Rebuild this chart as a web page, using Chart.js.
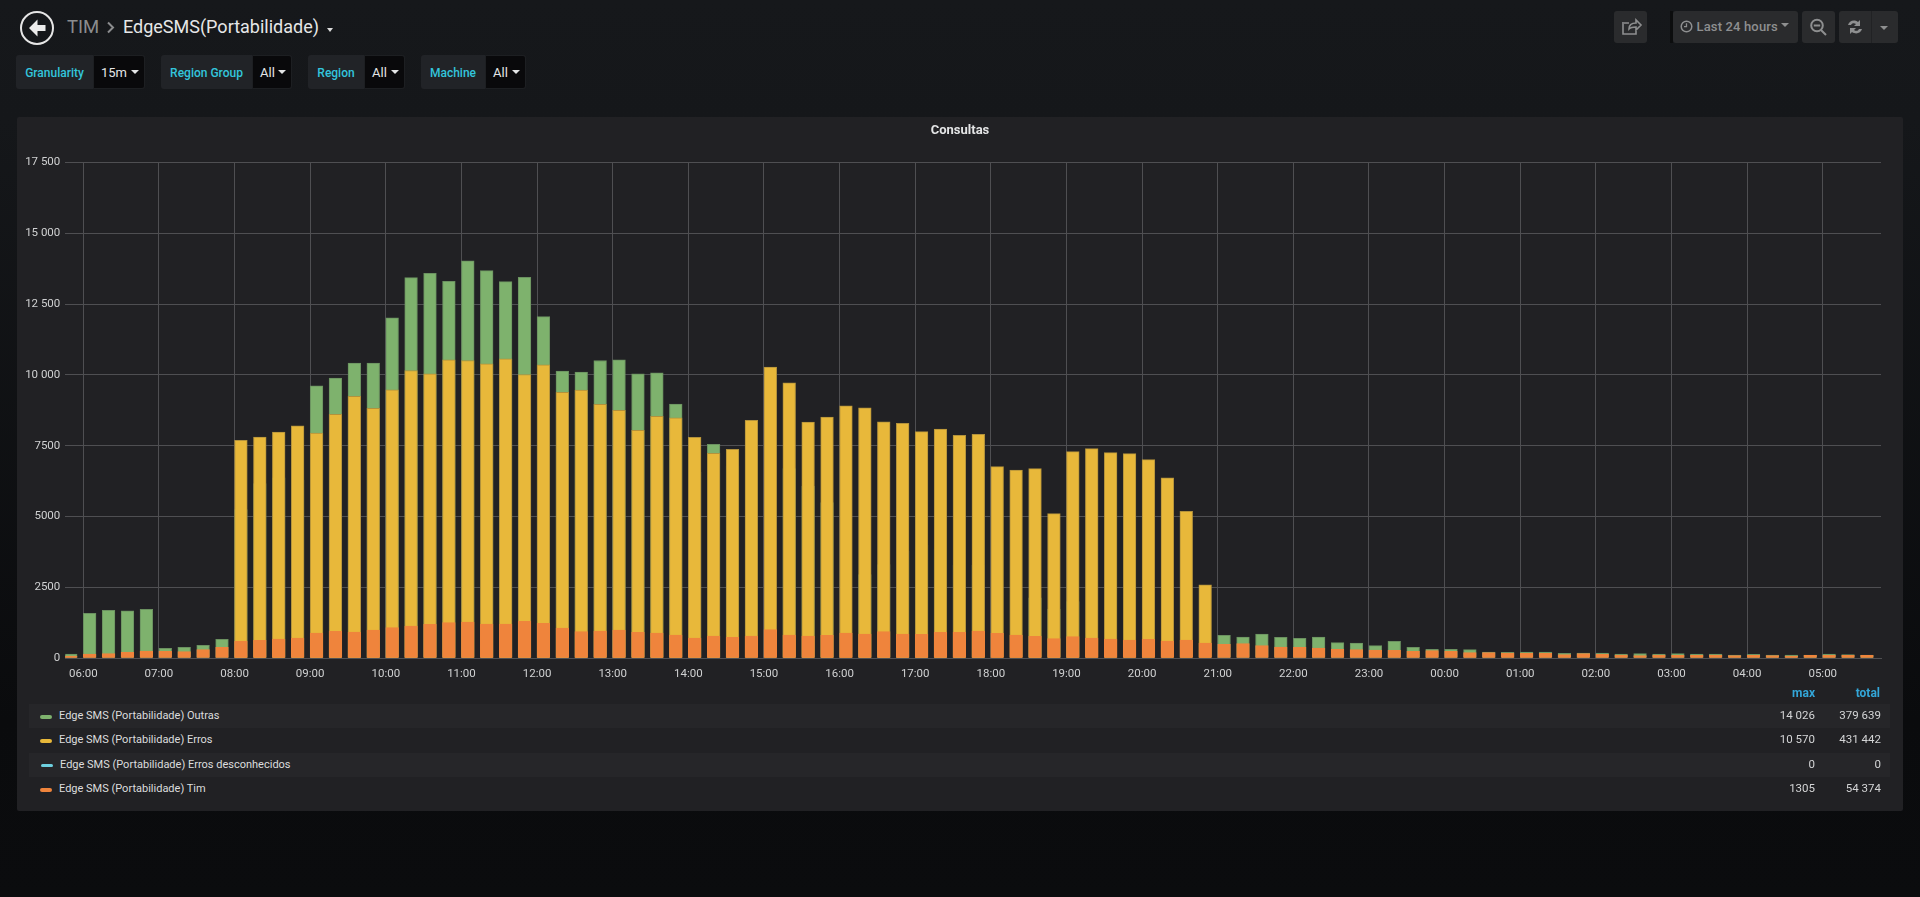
<!DOCTYPE html>
<html><head><meta charset="utf-8">
<script src="https://cdn.jsdelivr.net/npm/chart.js@4"></script>
<style>
html,body{margin:0;padding:0;width:1920px;height:897px;overflow:hidden;font-family:Roboto,sans-serif;}
body{background:linear-gradient(#16181b 0,#15171a 120px,#0a0b0d 720px,#0b0c0e 897px);position:relative;color:#d8d9da;}
.a{position:absolute;white-space:nowrap;}
.btn{position:absolute;background:#2a2b2d;border-radius:3px;top:11px;height:32px;}
.vbox{position:absolute;top:55px;height:34px;background:#212327;border-radius:3px;box-sizing:border-box;}
.vbox .l{position:absolute;left:0;top:1px;height:34px;line-height:34px;text-align:center;color:#33c5dc;font-weight:500;font-size:12px;}
.vbox .v{position:absolute;top:0;bottom:0;right:0;background:#09090b;border:1px solid #1d1f22;box-sizing:border-box;border-radius:0 3px 3px 0;line-height:34px;color:#e4e5e6;font-size:13px;padding-left:7px;}
.car{position:absolute;width:0;height:0;border-left:4px solid transparent;border-right:4px solid transparent;border-top:4px solid #e4e5e6;}
#panel{position:absolute;left:17px;top:117px;width:1886px;height:694px;background:#212124;border-radius:2px;}
#wrap{position:absolute;left:0;top:0;width:1886px;height:573px;}
.row{position:absolute;left:12px;width:1861px;height:24px;font-size:11px;color:#dcddde;}
.row.s{background:#262629;}
.sw{position:absolute;left:11px;top:11px;width:12px;height:3.5px;border-radius:2px;}
.nm{position:absolute;left:30px;top:0;line-height:23px;}
.mx,.tt{position:absolute;line-height:23px;top:0;text-align:right;color:#d4d5d6;font-size:11.5px;}
.mx{right:75px;}.tt{right:9px;}
.hd{position:absolute;top:569px;font-size:12px;font-weight:700;color:#33a6d8;line-height:14px;}
</style></head><body>

<svg class="a" style="left:19px;top:10px" width="36" height="36" viewBox="0 0 36 36">
<circle cx="18" cy="18" r="16" fill="none" stroke="#e6e6e6" stroke-width="2"/>
<path d="M18.5 9.5L10 18l8.500 8.500 0-5.500 8 0 0-6-8 0z" fill="#ececec"/></svg>
<div class="a" style="left:67px;top:15px;font-size:18.500px;line-height:24px;color:#8b8c8e">TIM</div>
<svg class="a" style="left:106px;top:21px" width="9" height="13"><path d="M2 1.500L7 6.500 2 11.500" fill="none" stroke="#8b8c8e" stroke-width="2"/></svg>
<div class="a" style="left:123px;top:15px;font-size:18px;line-height:24px;color:#e6e7e8">EdgeSMS(Portabilidade)</div>
<div class="car" style="left:327px;top:28px;border-top-color:#dcdcdc;border-left-width:3.5px;border-right-width:3.5px"></div>

<div class="btn" style="left:1614px;width:33px"><svg width="33" height="32"><path d="M10 12h5M9 11v12h13v-5M15 18c0-4 3-6 7-6v-3l5 5-5 5v-3c-3 0-5 0-7 2z" fill="none" stroke="#8e8f90" stroke-width="1.600"/></svg></div>
<div class="a" style="left:1670px;top:11px;width:3px;height:32px;background:#0c0d0e"></div>
<div class="btn" style="left:1673px;width:125px">
<svg class="a" style="left:7px;top:9px" width="13" height="13"><circle cx="6.500" cy="6.500" r="5.300" fill="none" stroke="#8e8f90" stroke-width="1.500"/><path d="M6.500 3.200v3.500H4" fill="none" stroke="#8e8f90" stroke-width="1.300"/></svg>
<div class="a" style="left:23.500px;top:0;line-height:31px;font-size:13px;font-weight:500;color:#8e8f90;letter-spacing:.15px">Last 24 hours</div>
<div class="car" style="left:108px;top:12px;border-top-color:#8e8f90"></div></div>
<div class="btn" style="left:1802px;width:33px"><svg width="33" height="32"><circle cx="15" cy="14.500" r="5.800" fill="none" stroke="#8e8f90" stroke-width="2"/><path d="M11.800 14.500h6.400M19 19l5 5" stroke="#8e8f90" stroke-width="2"/></svg></div>
<div class="btn" style="left:1839px;width:59px"><svg width="32" height="32"><path d="M9 14c1-4 6-6 10-3l2-2v6h-6l2-2c-2-1.500-4-1-5 1zM23 18c-1 4-6 6-10 3l-2 2v-6h6l-2 2c2 1.500 4 1 5-1z" fill="#8e8f90"/></svg>
<div class="a" style="left:31.500px;top:0;width:1px;height:32px;background:#212224"></div>
<div class="car" style="left:41px;top:15px;border-top-color:#8e8f90"></div></div>

<div class="vbox" style="left:16px;width:129px"><div class="l" style="width:77px">Granularity</div><div class="v" style="width:52px">15m<div class="car" style="left:37px;top:14px"></div></div></div>
<div class="vbox" style="left:161px;width:131px"><div class="l" style="width:91px">Region Group</div><div class="v" style="width:40px">All<div class="car" style="left:25px;top:14px"></div></div></div>
<div class="vbox" style="left:308px;width:97px"><div class="l" style="width:56px">Region</div><div class="v" style="width:41px">All<div class="car" style="left:26px;top:14px"></div></div></div>
<div class="vbox" style="left:421px;width:105px"><div class="l" style="width:64px">Machine</div><div class="v" style="width:41px">All<div class="car" style="left:26px;top:14px"></div></div></div>

<div id="panel">
<div id="wrap"><canvas id="c"></canvas></div>
<div id="legend"></div>
</div>

<script>
const chartTitle = "Consultas";
const timeLabels = ["05:45","06:00","06:15","06:30","06:45","07:00","07:15","07:30","07:45","08:00","08:15","08:30","08:45","09:00","09:15","09:30","09:45","10:00","10:15","10:30","10:45","11:00","11:15","11:30","11:45","12:00","12:15","12:30","12:45","13:00","13:15","13:30","13:45","14:00","14:15","14:30","14:45","15:00","15:15","15:30","15:45","16:00","16:15","16:30","16:45","17:00","17:15","17:30","17:45","18:00","18:15","18:30","18:45","19:00","19:15","19:30","19:45","20:00","20:15","20:30","20:45","21:00","21:15","21:30","21:45","22:00","22:15","22:30","22:45","23:00","23:15","23:30","23:45","00:00","00:15","00:30","00:45","01:00","01:15","01:30","01:45","02:00","02:15","02:30","02:45","03:00","03:15","03:30","03:45","04:00","04:15","04:30","04:45","05:00","05:15","05:30"];
const hourTicks = ["06:00","07:00","08:00","09:00","10:00","11:00","12:00","13:00","14:00","15:00","16:00","17:00","18:00","19:00","20:00","21:00","22:00","23:00","00:00","01:00","02:00","03:00","04:00","05:00"];
const yTickLabels = {17500:"17 500",15000:"15 000",12500:"12 500",10000:"10 000",7500:"7500",5000:"5000",2500:"2500",0:"0"};
// Values are overlaid, not stacked. null = hidden behind the taller bars and not legible.
const outras = [153,1585,1690,1679,1726,352,387,458,669,5248,6163,6363,6281,9615,9885,10413,10413,12010,13431,13583,13301,14026,13677,13290,13443,12057,10132,10096,10507,10531,10038,10073,8969,6574,7549,6774,null,null,6692,6070,5494,null,2958,3311,3780,3992,3851,3287,3287,null,null,2137,1738,2000,null,null,null,null,null,null,null,810,751,857,740,704,751,552,540,446,599,387,317,317,305,223,211,223,223,176,188,188,153,164,153,164,153,153,117,141,117,117,117,153,129,117];
const erros = [null,null,null,null,null,null,null,null,null,7690,7807,7983,8206,7948,8605,9239,8817,9474,10155,10038,10531,10507,10390,10570,10014,10355,9380,9462,8958,8746,8042,8535,8488,7795,7232,7373,8394,10273,9721,8335,8512,8911,8840,8347,8288,7995,8089,7866,7901,6762,6645,6692,5107,7291,7396,7255,7220,7009,6363,5189,2595,null,null,null,null,null,null,null,null,null,null,null,null,null,null,null,null,null,null,null,null,null,null,null,null,null,null,null,null,null,null,null,null,null,null,null];
const errosDesconhecidos = [0,0,0,0,0,0,0,0,0,0,0,0,0,0,0,0,0,0,0,0,0,0,0,0,0,0,0,0,0,0,0,0,0,0,0,0,0,0,0,0,0,0,0,0,0,0,0,0,0,0,0,0,0,0,0,0,0,0,0,0,0,0,0,0,0,0,0,0,0,0,0,0,0,0,0,0,0,0,0,0,0,0,0,0,0,0,0,0,0,0,0,0,0,0,0,0];
const tim = [82,153,164,211,258,247,235,305,387,599,634,681,716,892,951,927,998,1080,1139,1197,1256,1280,1209,1209,1305,1233,1068,939,963,998,916,892,822,716,787,740,787,1010,822,787,810,892,857,939,857,845,916,916,963,880,822,775,693,763,716,681,646,669,610,646,540,493,517,446,399,387,364,317,305,293,282,247,270,247,200,200,188,176,176,129,164,141,117,94,117,106,106,117,94,106,94,82,106,106,106,106];
const seriesNames = ["Edge SMS (Portabilidade) Outras","Edge SMS (Portabilidade) Erros","Edge SMS (Portabilidade) Erros desconhecidos","Edge SMS (Portabilidade) Tim"];
const seriesColors = ["#7eb26d","#e8b83a","#6ed0e0","#ef843c"];
const seriesEdges = ["#6b9160","#b3923b","#6ed0e0","#ef843c"];
const maxLabels = ["14 026","10 570","0","1305"];
const totalLabels = ["379 639","431 442","0","54 374"];

const seriesValues = [outras, erros, errosDesconhecidos, tim];
const drawOrder = [3,2,1,0];
const barCentreShift = 0.084;
const slotHours = timeLabels.map((_, i) => (i - 1) / 4 + barCentreShift);

const legendEl = document.getElementById('legend');
const rowTops = [587,611,635.500,660];
legendEl.insertAdjacentHTML('beforeend','<div class="hd" style="right:88px">max</div><div class="hd" style="right:23px">total</div>');
seriesNames.forEach((n,i)=>{
  const off = i===2 ? 1 : 0;
  legendEl.insertAdjacentHTML('beforeend',
   `<div class="row ${i%2===0?'s':''}" style="top:${rowTops[i]}px"><div class="sw" style="background:${seriesColors[i]};left:${11+off}px"></div><div class="nm" style="left:${30+off}px">${n}</div><div class="mx">${maxLabels[i]}</div><div class="tt">${totalLabels[i]}</div></div>`);
});

const grid = '#4f4f52';
const tickFont = {family:'Roboto', size:11.5};
new Chart(document.getElementById('c'),{
  type:'bar',
  data:{
    datasets: seriesNames.map((name,i)=>({
      label:name,
      data: slotHours.map((x,k)=>({x, y: seriesValues[i][k]})),
      backgroundColor: seriesColors[i],
      borderColor: seriesEdges[i],
      borderWidth: {top:1,left:1,right:1,bottom:0},
      borderSkipped:'bottom',
      order: drawOrder[i],
      grouped:false,
      barThickness:12.7
    }))
  },
  options:{
    responsive:true, maintainAspectRatio:false, animation:false,
    layout:{padding:0},
    plugins:{
      legend:{display:false}, tooltip:{enabled:false},
      title:{display:true,text:chartTitle,color:'#e4e5e6',font:{family:'Roboto',size:13,weight:'700'},padding:{top:6,bottom:23.700}}
    },
    scales:{
      x:{type:'linear',min:-0.238,max:23.77,offset:false,
        afterBuildTicks:s=>{s.ticks=hourTicks.map((_,i)=>({value:i}));},
        afterFit:s=>{s.height=573-541.300;},
        grid:{color:grid,lineWidth:1,drawTicks:false,offset:false},
        border:{color:grid,width:1},
        ticks:{color:'#d0d1d2',font:tickFont,padding:9,autoSkip:false,maxRotation:0,callback:(v)=>hourTicks[v]}},
      y:{min:0,max:17500,
        afterFit:s=>{s.width=48.300;},
        grid:{color:grid,lineWidth:1,drawTicks:false},
        border:{display:false},
        ticks:{stepSize:2500,color:'#d0d1d2',font:tickFont,padding:5,callback:v=>yTickLabels[v]}},
      rightMargin:{position:'right',min:0,max:1,
        afterFit:s=>{s.width=22;},
        grid:{display:false},border:{display:false},ticks:{display:false}}
    }
  }
});
</script>
</body></html>
